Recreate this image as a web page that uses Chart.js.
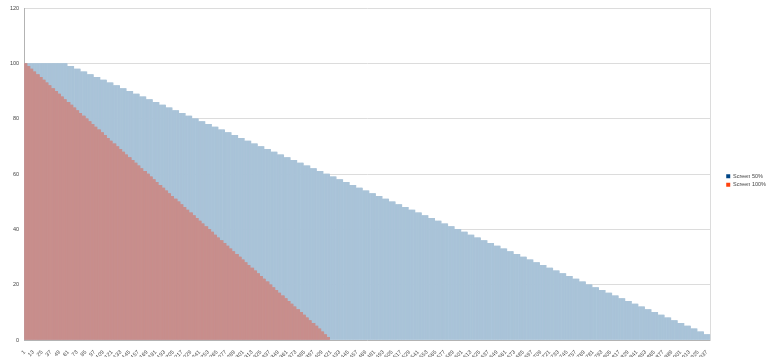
<!DOCTYPE html>
<html>
<head>
<meta charset="utf-8">
<script src="https://cdn.jsdelivr.net/npm/chart.js"></script>
<style>
  html, body { margin: 0; padding: 0; background: #fff; }
  #wrap { width: 768px; height: 357px; position: relative; }
</style>
</head>
<body>
<div id="wrap"><canvas id="myChart"></canvas></div>
<script>
// number of categories on the x axis (1 .. categoryCount)
const categoryCount = 941;

// labels printed under the axis
const tickLabels = [1, 13, 25, 37, 49, 61, 73, 85, 97, 109, 121, 133, 145, 157, 169, 181, 193, 205,
  217, 229, 241, 253, 265, 277, 289, 301, 313, 325, 337, 349, 361, 373, 385, 397, 409, 421, 433,
  445, 457, 469, 481, 493, 505, 517, 529, 541, 553, 565, 577, 589, 601, 613, 625, 637, 649, 661,
  673, 685, 697, 709, 721, 733, 745, 757, 769, 781, 793, 805, 817, 829, 841, 853, 865, 877, 889,
  901, 913, 925, 937];

const seriesNames = ['Screen 50%', 'Screen 100%'];

// Screen 50%: value levels and how many categories each level lasts
const blueLevels = [100, 99, 98, 97, 96, 95, 94, 93, 92, 91,
  90, 89, 88, 87, 86, 85, 84, 83, 82, 81,
  80, 79, 78, 77, 76, 75, 74, 73, 72, 71,
  70, 69, 68, 67, 66, 65, 64, 63, 62, 61,
  60, 59, 58, 57, 56, 55, 54, 53, 52, 51,
  50, 49, 48, 47, 46, 45, 44, 43, 42, 41,
  40, 39, 38, 37, 36, 35, 34, 33, 32, 31,
  30, 29, 28, 27, 26, 25, 24, 23, 22, 21,
  20, 19, 18, 17, 16, 15, 14, 13, 12, 11,
  10, 9, 8, 7, 6, 5, 4, 3, 2];
const blueRuns = [59, 9, 9, 9, 9, 9, 9, 9, 9, 9,
  9, 9, 9, 9, 9, 9, 9, 9, 9, 9,
  9, 9, 9, 9, 9, 9, 9, 9, 9, 9,
  9, 9, 9, 9, 9, 9, 9, 9, 9, 9,
  9, 9, 9, 9, 9, 9, 9, 9, 9, 9,
  9, 9, 9, 9, 9, 9, 9, 9, 9, 9,
  9, 9, 9, 9, 9, 9, 9, 9, 9, 9,
  9, 9, 9, 9, 9, 9, 9, 9, 9, 9,
  9, 9, 9, 9, 9, 9, 9, 9, 9, 9,
  9, 9, 9, 9, 9, 9, 9, 9, 9];

// Screen 100%
const redLevels = [100, 99, 98, 97, 96, 95, 94, 93, 92, 91,
  90, 89, 88, 87, 86, 85, 84, 83, 82, 81,
  80, 79, 78, 77, 76, 75, 74, 73, 72, 71,
  70, 69, 68, 67, 66, 65, 64, 63, 62, 61,
  60, 59, 58, 57, 56, 55, 54, 53, 52, 51,
  50, 49, 48, 47, 46, 45, 44, 43, 42, 41,
  40, 39, 38, 37, 36, 35, 34, 33, 32, 31,
  30, 29, 28, 27, 26, 25, 24, 23, 22, 21,
  20, 19, 18, 17, 16, 15, 14, 13, 12, 11,
  10, 9, 8, 7, 6, 5, 4, 3, 2, 1];
const redRuns = [4, 4, 4, 4, 5, 4, 4, 4, 4, 5,
  4, 4, 4, 4, 5, 4, 4, 4, 4, 5,
  4, 4, 4, 4, 5, 4, 4, 4, 4, 5,
  4, 4, 4, 4, 5, 4, 4, 4, 4, 5,
  4, 4, 4, 4, 5, 4, 4, 4, 4, 5,
  4, 4, 4, 4, 5, 4, 4, 4, 4, 5,
  4, 4, 4, 4, 5, 4, 4, 4, 4, 5,
  4, 4, 4, 4, 5, 4, 4, 4, 4, 5,
  4, 4, 4, 4, 5, 4, 4, 4, 4, 5,
  4, 4, 4, 4, 5, 4, 4, 4, 4, 4];

function expand(levels, runs, total) {
  const out = [];
  levels.forEach((v, k) => {
    for (let n = 0; n < runs[k]; n++) out.push(v);
  });
  while (out.length < total) out.push(null);
  return out;
}

const categories = [];
for (let i = 1; i <= categoryCount; i++) categories.push(String(i));

const legendColors = ['#004586', '#ff420e'];
const font = { family: "'Liberation Sans', 'DejaVu Sans', sans-serif", size: 5.5 };

const ctx = document.getElementById('myChart');
new Chart(ctx, {
  type: 'bar',
  data: {
    labels: categories,
    datasets: [{
      label: seriesNames[0],
      data: expand(blueLevels, blueRuns, categoryCount),
      backgroundColor: '#a9c3d8',
      borderWidth: 0,
      grouped: false,
      order: 1,
      barPercentage: 1,
      categoryPercentage: 1
    }, {
      label: seriesNames[1],
      data: expand(redLevels, redRuns, categoryCount),
      backgroundColor: '#c88e8c',
      borderWidth: 0,
      grouped: false,
      order: 0,
      barPercentage: 1,
      categoryPercentage: 1
    }]
  },
  options: {
    responsive: true,
    maintainAspectRatio: false,
    animation: false,
    // legend box carries extra inner space on its right, pull it in
    layout: { padding: { top: 4, left: 5, right: -8, bottom: 0 } },
    plugins: {
      tooltip: { enabled: false },
      legend: {
        position: 'right',
        labels: {
          font: font,
          color: '#444',
          boxWidth: 4,
          boxHeight: 4,
          padding: 3,
          generateLabels: (chart) => chart.data.datasets.map((ds, i) => ({
            text: ds.label,
            fillStyle: legendColors[i],
            strokeStyle: legendColors[i],
            lineWidth: 0,
            hidden: false,
            datasetIndex: i,
            fontColor: '#444'
          }))
        }
      }
    },
    scales: {
      x: {
        grid: { display: false },
        border: { color: '#b3b3b3' },
        afterFit: (scale) => { scale.height = 17; },
        ticks: {
          autoSkip: false,
          maxRotation: 45,
          minRotation: 45,
          padding: 1,
          font: font,
          color: '#444',
          callback: function (value, index) {
            const lab = Number(this.getLabelForValue(value));
            return tickLabels.includes(lab) ? String(lab) : '';
          }
        }
      },
      y: {
        min: 0,
        max: 120,
        ticks: { stepSize: 20, font: font, color: '#444', padding: 5 },
        grid: { color: '#dcdcdc', drawTicks: false },
        border: { color: '#b3b3b3' }
      },
      y2: {
        position: 'right',
        min: 0,
        max: 120,
        afterFit: (scale) => { scale.width = 13; },
        ticks: { display: false },
        grid: { display: false, drawTicks: false },
        border: { color: '#dcdcdc' }
      }
    }
  }
});
</script>
</body>
</html>
